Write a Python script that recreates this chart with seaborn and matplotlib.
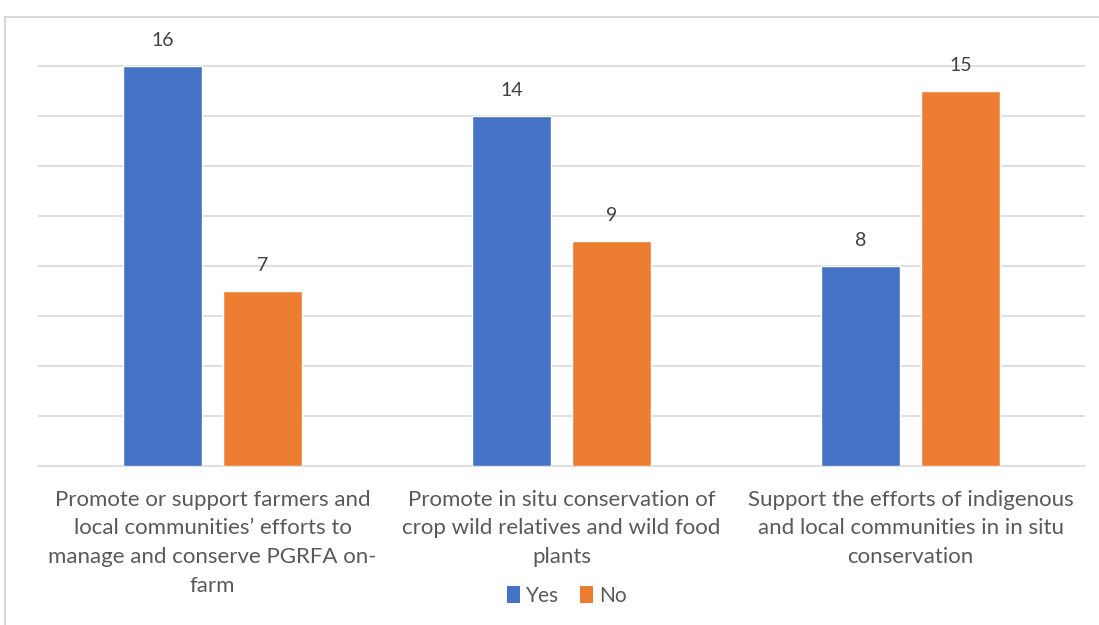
import matplotlib
matplotlib.use("Agg")
import matplotlib.pyplot as plt
import seaborn as sns
import pandas as pd
from matplotlib.patches import Rectangle, Patch

categories = [
    "Promote or support farmers and\nlocal communities\u2019 efforts to\nmanage and conserve PGRFA on-\nfarm",
    "Promote in situ conservation of\ncrop wild relatives and wild food\nplants",
    "Support the efforts of indigenous\nand local communities in in situ\nconservation",
]
series_names = ["Yes", "No"]
yes_values = [16, 14, 8]
no_values = [7, 9, 15]
colors = ["#4472C4", "#ED7D31"]

df = pd.DataFrame({
    "category": categories * 2,
    "answer": ["Yes"] * 3 + ["No"] * 3,
    "value": yes_values + no_values,
})

sns.set_theme(style="white")
plt.rcParams["font.family"] = ["Lato", "DejaVu Sans"]

fig = plt.figure(figsize=(10.99, 6.25), dpi=100)
ax = fig.add_axes([38 / 1099, 1 - 466 / 625, 1047 / 1099, 450 / 625])

# outer chart frame
fig.patches.append(Rectangle((5 / 1099, -0.05), 1.2, 1 - 17 / 625 + 0.05,
                             transform=fig.transFigure, fill=False,
                             edgecolor="#d9d9d9", linewidth=1.5, zorder=0))

sns.barplot(data=df, x="category", y="value", hue="answer",
            hue_order=series_names, palette=colors, width=0.573, gap=0.21,
            saturation=1, ax=ax, legend=False, zorder=3)

for cont in ax.containers:
    ax.bar_label(cont, padding=12, fontsize=14, color="#404040")

ax.set_xlim(-0.5, 2.5)
ax.set_ylim(0, 18)
ax.set_yticks(range(2, 17, 2))
ax.set_yticklabels([])
ax.tick_params(axis="y", length=0)
ax.set_xticks(range(len(categories)))
ax.set_xticklabels(categories, linespacing=1.55, fontsize=16, color="#595959")
ax.tick_params(axis="x", length=0, pad=17)
ax.grid(axis="y", color="#d9d9d9", linewidth=1.2, zorder=0)
ax.set_axisbelow(True)
for s in ["top", "right", "left"]:
    ax.spines[s].set_visible(False)
ax.spines["bottom"].set_color("#d9d9d9")
ax.spines["bottom"].set_linewidth(1.2)
ax.set_xlabel("")
ax.set_ylabel("")

handles = [Patch(facecolor=c, edgecolor="none") for c in colors]
fig.legend(handles, series_names, loc="center", bbox_to_anchor=(567 / 1099, 1 - 596 / 625),
           ncol=2, frameon=False, fontsize=15, labelcolor="#595959",
           handlelength=0.6, handleheight=0.9, handletextpad=0.3, columnspacing=1.0)

fig.savefig("out.png", dpi=100)
